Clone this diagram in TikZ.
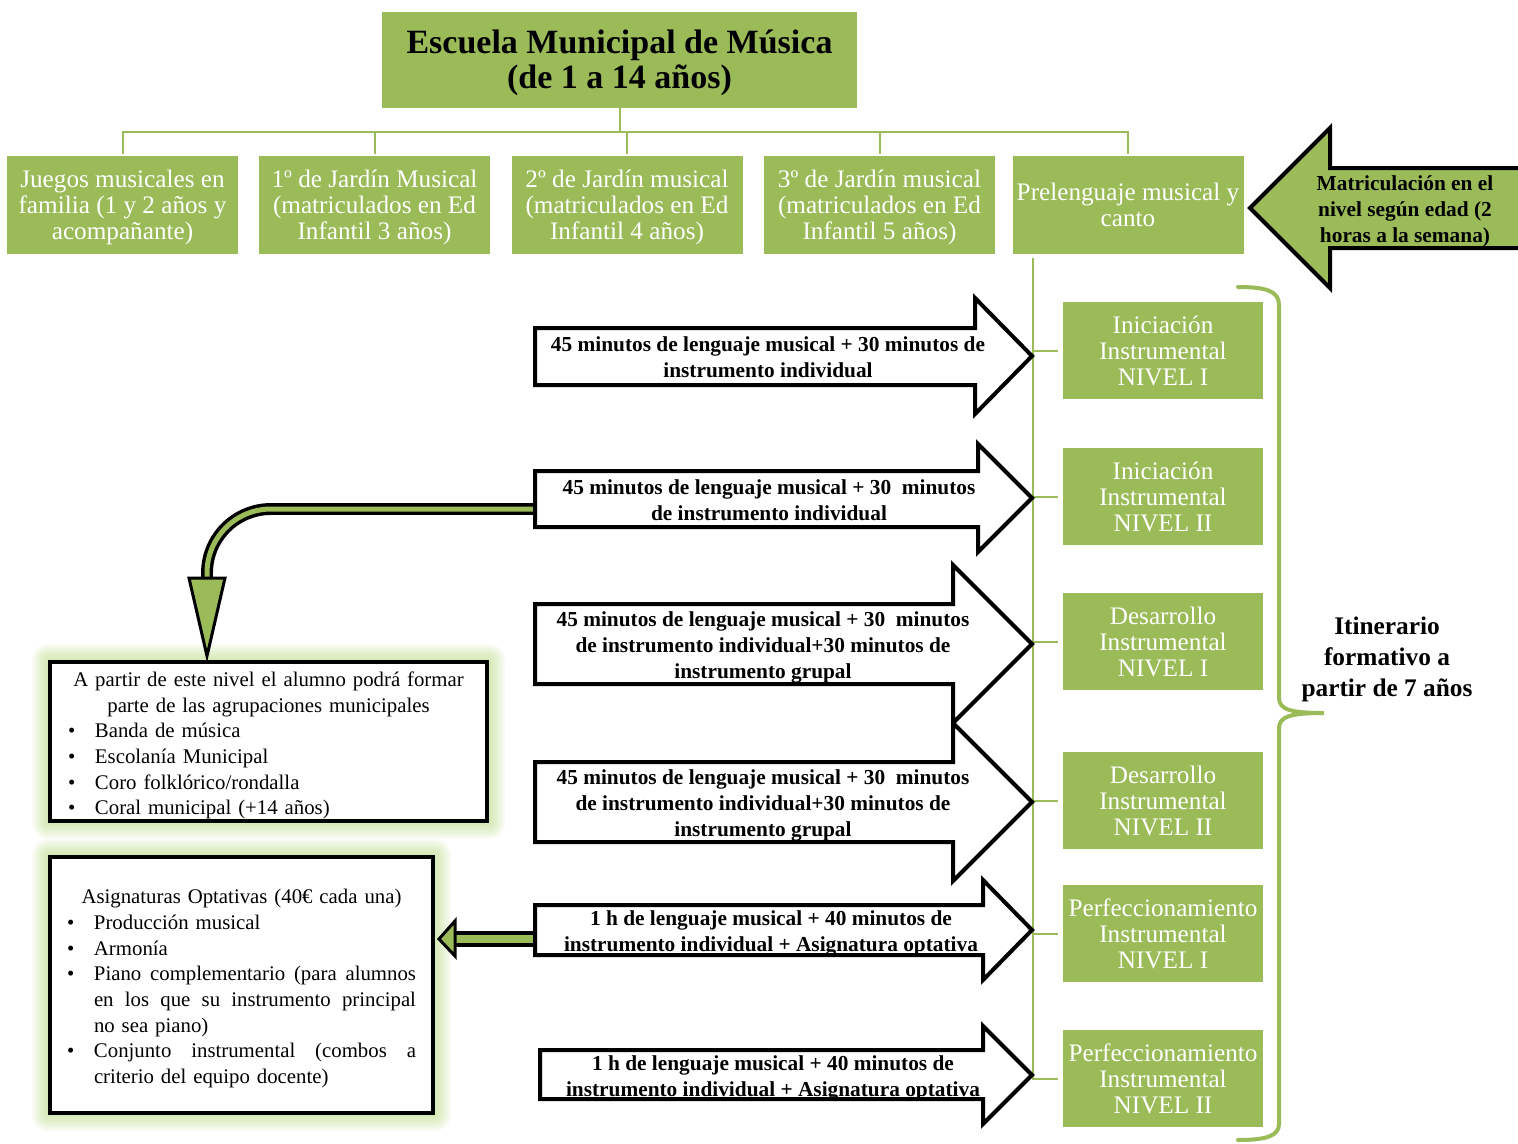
\documentclass[tikz,border=0pt]{standalone}
\usepackage{fontspec}
\setmainfont{Liberation Serif}
\usetikzlibrary{positioning}
\definecolor{olivegreen}{HTML}{9BBB59}
\definecolor{glowgreen}{HTML}{A9D26A}
\pgfdeclarelayer{background}
\pgfsetlayers{background,main}
\newcommand{\bulitem}{\par\noindent\makebox[20.25pt][l]{\textbullet}}
\newcommand{\bulcont}{\par\noindent\hspace*{20.25pt}}
\newcommand{\topstrut}{\rule{0pt}{16.6pt}}

\begin{document}
\begin{tikzpicture}[x=0.75pt,y=-0.75pt,
    link/.style={draw=olivegreen,line width=1.5pt},
    topbox/.style={fill=olivegreen,text=white,minimum width=173.25pt,minimum height=73.5pt,inner sep=0pt,align=center,font=\fontsize{18.9}{19.5}\selectfont},
    levelbox/.style={fill=olivegreen,text=white,minimum width=150pt,minimum height=72.75pt,inner sep=0pt,align=center,font=\fontsize{18.9}{19.5}\selectfont},
    blockarrow/.style={draw=black,fill=white,line width=3pt,line join=miter},
    arrowtext/.style={inner sep=0pt,align=center,font=\bfseries\fontsize{16}{19.5}\selectfont},
    listbox/.style={draw=black,fill=white,line width=3pt,inner sep=0pt},
    listtext/.style={inner sep=0pt,align=left,font=\fontsize{15.6}{19.25}\selectfont},
    pipe/.style={draw=black,double=olivegreen,line width=2.6pt,double distance=3.75pt},
    pipehead/.style={draw=black,fill=olivegreen,line width=2.25pt,line join=miter}]
  \useasboundingbox (0,0) rectangle (1518,1143);

  % top of the chart
  \node[fill=olivegreen,minimum width=356.25pt,minimum height=72pt,inner sep=0pt] (escuela) at (619.5,60) {};
  \node[font=\bfseries\fontsize{25.5}{26.25}\selectfont,align=center] (escuelatxt) at (619.5,63)
        {Escuela Municipal de Música\\(de 1 a 14 años)};
  \node[topbox] (juegos) at (122.5,205) {\topstrut Juegos musicales en\\familia (1 y 2 años y\\acompañante)};
  \node[topbox] (jardin1) at (374.5,205) {\topstrut 1º de Jardín Musical\\(matriculados en Ed\\Infantil 3 años)};
  \node[topbox] (jardin2) at (627,205) {\topstrut 2º de Jardín musical\\(matriculados en Ed\\Infantil 4 años)};
  \node[topbox] (jardin3) at (879.5,205) {\topstrut 3º de Jardín musical\\(matriculados en Ed\\Infantil 5 años)};
  \node[topbox] (prelenguaje) at (1128,205) {Prelenguaje musical y\\canto};

  \coordinate (bus) at (619.5,132);
  \draw[link] (escuela.south) -- (bus);
  \foreach \b in {juegos,jardin1,jardin2,jardin3,prelenguaje}
    \draw[link] (bus) -| ([yshift=1pt]\b.north);

  % entry arrow
  \draw[blockarrow,fill=olivegreen] (1530,168) -- (1330,168) -- (1330,128) -- (1250,208)
    -- (1330,288) -- (1330,248) -- (1530,248);
  \node[arrowtext] (matricula) at (1405,211) {Matriculación en el\\nivel según edad (2\\horas a la semana)};

  % levels from 7 years
  \node[levelbox] (inic1) at (1163,350.5) {Iniciación\\Instrumental\\NIVEL I};
  \node[levelbox] (inic2) at (1163,496.5) {Iniciación\\Instrumental\\NIVEL II};
  \node[levelbox] (desa1) at (1163,641.5) {Desarrollo\\Instrumental\\NIVEL I};
  \node[levelbox] (desa2) at (1163,800.5) {Desarrollo\\Instrumental\\NIVEL II};
  \node[levelbox] (perf1) at (1163,933.5) {Perfeccionamiento\\Instrumental\\NIVEL I};
  \node[levelbox] (perf2) at (1163,1078.5) {Perfeccionamiento\\Instrumental\\NIVEL II};

  \coordinate (spine) at (1033,258);
  \foreach \n in {inic1,inic2,desa1,desa2,perf1,perf2}
    \draw[link] (spine) |- ([xshift=-3.75pt]\n.west);

  \draw[olivegreen,line width=3pt,line cap=round] (1238,287) .. controls (1266,287) and (1279,291) .. (1279,305)
    -- (1279,698) .. controls (1279,710) and (1292,713) .. (1324,713)
    .. controls (1292,713) and (1279,716) .. (1279,728)
    -- (1279,1124) .. controls (1279,1136) and (1266,1140) .. (1238,1140);
  \node[align=center,font=\bfseries\fontsize{19}{23.25}\selectfont] (itinerario) at (1387,659)
    {Itinerario\\formativo a\\partir de 7 años};

  % side boxes
  \node[listbox,minimum width=327.75pt,minimum height=119.25pt] (agrup) at (268.5,741.5) {};
  \node[listtext,text width=300.75pt] (agruptxt) at (268.5,745.5)
    {{\centering A partir de este nivel el alumno podrá formar\\parte de las agrupaciones municipales\par}
     \bulitem Banda de música
     \bulitem Escolanía Municipal
     \bulitem Coro folklórico/rondalla
     \bulitem Coral municipal (+14 años)};
  \node[listbox,minimum width=287.25pt,minimum height=192pt] (optativas) at (241.5,985) {};
  \node[listtext,text width=261.75pt] (optativastxt) at (241.5,988.5)
    {{\centering Asignaturas Optativas (40€ cada una)\par}
     \bulitem Producción musical
     \bulitem Armonía
     \bulitem\hbox to 241.5pt{Piano\hfill complementario\hfill (para\hfill alumnos}
     \bulcont\hbox to 241.5pt{en\hfill los\hfill que\hfill su\hfill instrumento\hfill principal}
     \bulcont no sea piano)
     \bulitem\hbox to 241.5pt{Conjunto\hfill instrumental\hfill (combos\hfill a}
     \bulcont criterio del equipo docente)};
  \begin{pgfonlayer}{background}
    \foreach \b in {agrup,optativas}
      \foreach \g in {1,...,8}
        \fill[glowgreen,opacity=0.075,rounded corners=\g*1.5pt]
          ([shift={(-\g*1.5pt,\g*1.5pt)}]\b.north west) rectangle ([shift={(\g*1.5pt,-\g*1.5pt)}]\b.south east);
  \end{pgfonlayer}

  % pipes to the side boxes
  \coordinate (tail2) at (540,509);
  \coordinate (bend) at (207,580);
  \draw[pipe,rounded corners=48pt] (tail2) -| (bend);
  \draw[pipehead] (189,578) -- (225,578) -- ([yshift=3pt]agrup.north -| bend) -- cycle;
  \coordinate (tail5) at (540,939);
  \coordinate (tip5) at ([xshift=3pt]optativas.east |- tail5);
  \draw[pipe,line width=3pt,double distance=6pt] (tail5) -- (456,939);
  \draw[pipehead] (455,921) -- (455,956) -- (tip5) -- cycle;

  % time arrows
  \draw[blockarrow] (535,328) -- (975,328) -- (975,298) -- (1032,356) -- (975,414) -- (975,385) -- (535,385) -- cycle;
  \draw[blockarrow] (535,471) -- (978,471) -- (978,444) -- (1032,498) -- (978,552) -- (978,527) -- (535,527) -- cycle;
  \draw[blockarrow] (535,604) -- (953,604) -- (953,565) -- (1032,644) -- (953,723) -- (953,684) -- (535,684) -- cycle;
  \draw[blockarrow] (535,762) -- (953,762) -- (953,723) -- (1032,802) -- (953,881) -- (953,842) -- (535,842) -- cycle;
  \draw[blockarrow] (535,905) -- (983,905) -- (983,880) -- (1032,930) -- (983,980) -- (983,955) -- (535,955) -- cycle;
  \draw[blockarrow] (540,1050) -- (983,1050) -- (983,1026) -- (1032,1075) -- (983,1124) -- (983,1099) -- (540,1099) -- cycle;

  \node[arrowtext] (minutos1) at (768,357) {45 minutos de lenguaje musical + 30 minutos de\\instrumento individual};
  \node[arrowtext] (minutos2) at (769,500) {45 minutos de lenguaje musical + 30\ \ minutos\\de instrumento individual};
  \node[arrowtext] (minutos3) at (763,647.5) {45 minutos de lenguaje musical + 30\ \ minutos\\de instrumento individual+30 minutos de\\instrumento grupal};
  \node[arrowtext] (minutos4) at (763,805) {45 minutos de lenguaje musical + 30\ \ minutos\\de instrumento individual+30 minutos de\\instrumento grupal};
  \node[arrowtext] (hora1) at (771,933) {1 h de lenguaje musical + 40 minutos de\\instrumento individual + Asignatura optativa};
  \node[arrowtext] (hora2) at (773,1078) {1 h de lenguaje musical + 40 minutos de\\instrumento individual + Asignatura optativa};
\end{tikzpicture}
\end{document}
